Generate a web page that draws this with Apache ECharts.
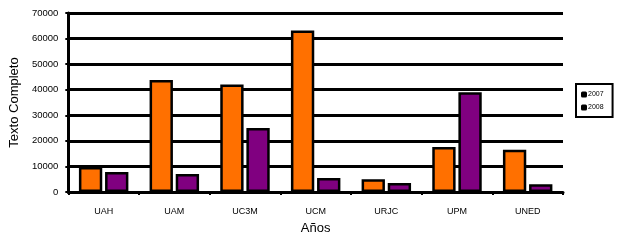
<!DOCTYPE html>
<html>
<head>
<meta charset="utf-8">
<script src="https://cdn.jsdelivr.net/npm/echarts@6/dist/echarts.min.js"></script>
<style>
html, body { margin: 0; padding: 0; background: #fff; }
#chart { width: 617px; height: 242px; }
</style>
</head>
<body>
<div id="chart"></div>
<script>
// universidades
var categories = ['UAH', 'UAM', 'UC3M', 'UCM', 'URJC', 'UPM', 'UNED'];
var data2007 = [9800, 43800, 42000, 63200, 5000, 17600, 16500];
var data2008 = [7800, 7000, 25000, 5500, 3500, 39000, 3000];
var seriesNames = ['2007', '2008'];

initChart();

function initChart() {
    var myChart = echarts.init(document.getElementById('chart'));
    var font = 'Liberation Sans, Arial, sans-serif';
    var option = {
        animation: false,
        grid: {
            left: 68,
            right: 54,
            top: 13,
            bottom: 50
        },
        legend: {
            orient: 'vertical',
            left: 576,
            top: 84,
            padding: [7, 9, 6, 5],
            itemGap: 6,
            itemWidth: 6,
            itemHeight: 6,
            icon: 'roundRect',
            borderColor: '#000',
            borderWidth: 2,
            itemStyle: { color: '#000', borderWidth: 0 },
            textStyle: { fontSize: 7, color: '#000', fontFamily: font, padding: [0, 0, 0, -4] },
            data: seriesNames
        },
        xAxis: {
            type: 'category',
            data: categories,
            name: 'Años',
            nameLocation: 'middle',
            nameGap: 30,
            nameTextStyle: { fontSize: 13, color: '#000', fontFamily: font },
            axisLine: { lineStyle: { color: '#000', width: 3 } },
            axisTick: { show: true, length: 3, lineStyle: { color: '#000', width: 2 } },
            axisLabel: { fontSize: 9, color: '#000', margin: 15, fontFamily: font }
        },
        yAxis: {
            type: 'value',
            min: 0,
            max: 70000,
            interval: 10000,
            name: 'Texto Completo',
            nameLocation: 'middle',
            nameGap: 44,
            nameTextStyle: { fontSize: 13, color: '#000', fontFamily: font },
            axisLine: { show: true, lineStyle: { color: '#000', width: 3 } },
            axisTick: { show: true, length: 3, lineStyle: { color: '#000', width: 2 } },
            axisLabel: {
                fontSize: 9.5, color: '#000', margin: 10, fontFamily: font,
                formatter: function (v) { return String(v); }
            },
            splitLine: { lineStyle: { color: '#000', width: 3 } }
        },
        series: [
            {
                name: seriesNames[0],
                type: 'bar',
                data: data2007,
                barCategoryGap: '30%',
                barGap: '12%',
                itemStyle: { color: '#ff7000', borderColor: '#000', borderWidth: 2.5 }
            },
            {
                name: seriesNames[1],
                type: 'bar',
                data: data2008,
                itemStyle: { color: '#800080', borderColor: '#000', borderWidth: 2.5 }
            }
        ]
    };
    myChart.setOption(option);
}
</script>
</body>
</html>
